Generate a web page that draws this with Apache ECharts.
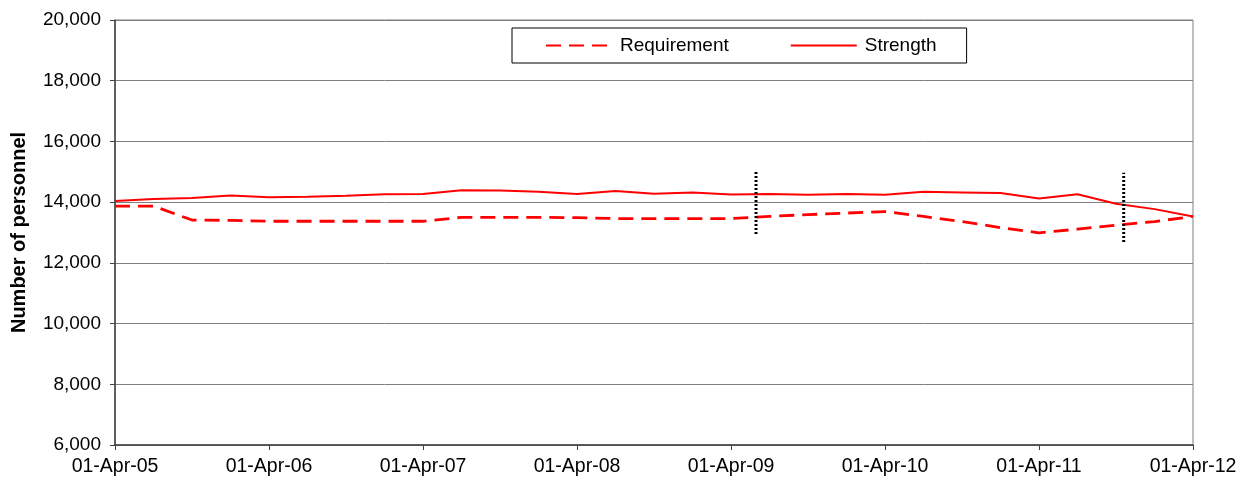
<!DOCTYPE html>
<html>
<head>
<meta charset="utf-8">
<script src="https://cdn.jsdelivr.net/npm/echarts@6/dist/echarts.min.js"></script>
<style>
  html, body { margin: 0; padding: 0; background: #fff; }
</style>
</head>
<body>
<div id="main" style="width:1252px;height:487px;"></div>
<script>
// quarterly points, 01-Apr-05 .. 01-Apr-12 (index = quarter number)
var quarters = [
  "01-Apr-05", "01-Jul-05", "01-Oct-05", "01-Jan-06",
  "01-Apr-06", "01-Jul-06", "01-Oct-06", "01-Jan-07",
  "01-Apr-07", "01-Jul-07", "01-Oct-07", "01-Jan-08",
  "01-Apr-08", "01-Jul-08", "01-Oct-08", "01-Jan-09",
  "01-Apr-09", "01-Jul-09", "01-Oct-09", "01-Jan-10",
  "01-Apr-10", "01-Jul-10", "01-Oct-10", "01-Jan-11",
  "01-Apr-11", "01-Jul-11", "01-Oct-11", "01-Jan-12",
  "01-Apr-12"
];
var requirement = [
  13870, 13870, 13410, 13400, 13370, 13370, 13370, 13370,
  13370, 13500, 13500, 13500, 13490, 13460, 13460, 13460,
  13460, 13530, 13590, 13640, 13690, 13530, 13360, 13160,
  12990, 13110, 13240, 13360, 13530
];
var strength = [
  14040, 14100, 14140, 14220, 14160, 14180, 14210, 14260,
  14270, 14390, 14380, 14340, 14270, 14370, 14280, 14320,
  14250, 14270, 14240, 14270, 14240, 14340, 14320, 14300,
  14120, 14260, 13950, 13770, 13530
];
// dotted markers: [quarter position, bottom, top]
var markers = [
  [16.65, 12950, 15030],
  [26.2, 12690, 14970]
];

var font = "Liberation Sans";

function toPairs(arr) {
  return arr.map(function (v, i) { return [i, v]; });
}

var chart = echarts.init(document.getElementById("main"));

var series = [
  {
    name: "Requirement",
    type: "line",
    data: toPairs(requirement),
    symbol: "none",
    lineStyle: { color: "#ff0000", width: 2.8, type: [15, 8] },
    itemStyle: { color: "#ff0000" },
    z: 3
  },
  {
    name: "Strength",
    type: "line",
    data: toPairs(strength),
    symbol: "none",
    lineStyle: { color: "#ff0000", width: 2 },
    itemStyle: { color: "#ff0000" },
    z: 3
  }
];
markers.forEach(function (m, k) {
  series.push({
    name: "marker" + k,
    type: "line",
    data: [[m[0], m[1]], [m[0], m[2]]],
    symbol: "none",
    lineStyle: { color: "#000", width: 3, type: [2, 2] },
    silent: true,
    z: 4
  });
});

var option = {
  animation: false,
  textStyle: { fontFamily: font },
  grid: {
    left: 115, right: 59, top: 20, bottom: 42,
    show: true, borderColor: "#7f7f7f", borderWidth: 1
  },
  legend: {
    data: ["Requirement", "Strength"],
    left: 512,
    top: 28,
    itemWidth: 66,
    itemHeight: 14,
    itemGap: 61,
    padding: [8, 30, 8, 33],
    borderColor: "#000",
    borderWidth: 1,
    backgroundColor: "#fff",
    itemStyle: { color: "transparent", borderWidth: 0 },
    textStyle: { fontFamily: font, fontSize: 19, color: "#000", padding: [0, 0, 0, 3] }
  },
  xAxis: {
    type: "value",
    min: 0,
    max: 28,
    interval: 4,
    axisLine: { lineStyle: { color: "#404040", width: 1.5 } },
    axisTick: { show: true, length: 5, lineStyle: { color: "#404040" } },
    splitLine: { show: false },
    axisLabel: {
      fontFamily: font, fontSize: 19.5, color: "#000", margin: 12,
      formatter: function (v) { return quarters[v]; }
    }
  },
  yAxis: {
    type: "value",
    min: 6000,
    max: 20000,
    interval: 2000,
    name: "Number of personnel",
    nameLocation: "middle",
    nameGap: 86,
    nameTextStyle: { fontFamily: font, fontSize: 20, fontWeight: "bold", color: "#000" },
    axisLine: { show: true, lineStyle: { color: "#404040", width: 1.5 } },
    axisTick: { show: true, length: 5, lineStyle: { color: "#404040" } },
    splitLine: { lineStyle: { color: "#7f7f7f", width: 1 } },
    axisLabel: {
      fontFamily: font, fontSize: 19, color: "#000", margin: 14,
      formatter: function (v) { return v.toLocaleString("en-US"); }
    }
  },
  series: series
};

chart.setOption(option);
</script>
</body>
</html>
